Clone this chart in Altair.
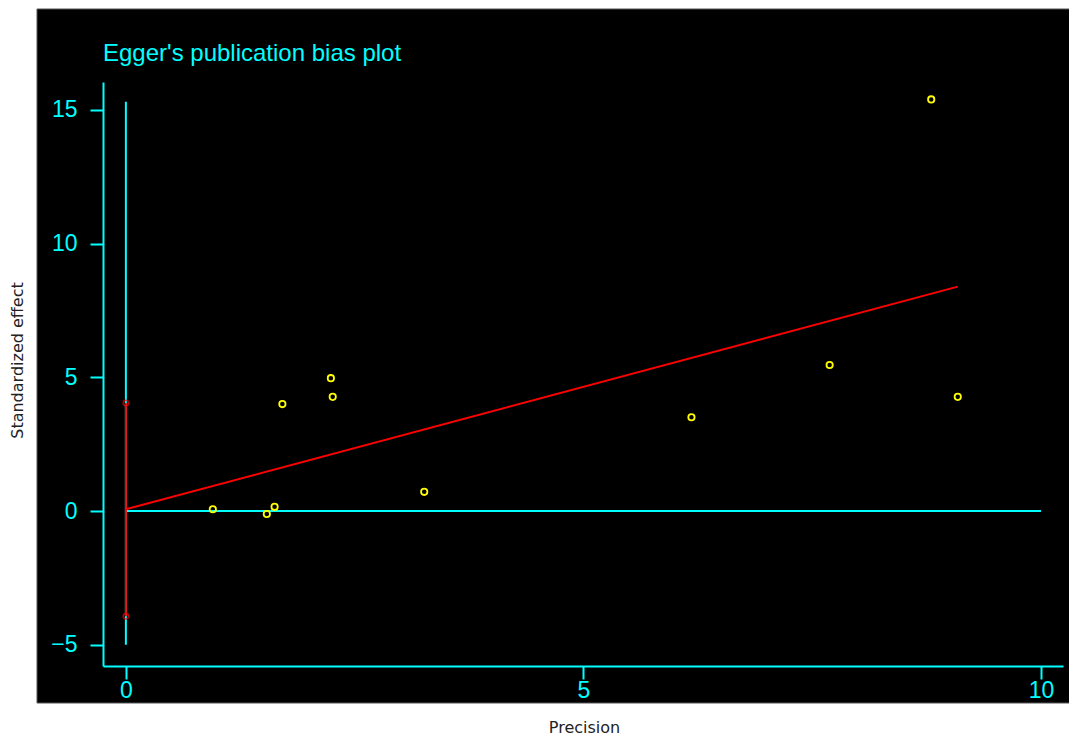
import altair as alt
import pandas as pd

# ---- data ----
precision = [0.95, 1.54, 1.625, 1.71, 2.24, 2.26, 3.26, 6.18, 7.69, 8.80, 9.09]
std_effect = [0.07, -0.11, 0.16, 4.00, 4.97, 4.27, 0.72, 3.51, 5.46, 15.39, 4.27]

reg_x = [0.0, 9.09]          # regression line end points (precision)
reg_y = [0.07, 8.39]         # regression line end points (standardized effect)
ci_low, ci_high = -3.93, 4.04  # intercept confidence interval
ref_vline = [-5.0, 15.3]     # cyan reference line at precision 0
zero_line = [0.0, 10.0]      # cyan line at effect 0

x_ticks = [0, 5, 10]
y_ticks = [-5, 0, 5, 10, 15]
x_domain = [-0.25, 10.24]
y_domain = [-5.79, 16.04]

CYAN = "#00ffff"
RED = "#ff0000"
YELLOW = "#ffff00"
NARROW = "Liberation Sans Narrow, Arial Narrow, Liberation Sans, Arial"

pts = pd.DataFrame({"precision": precision, "effect": std_effect})
reg = pd.DataFrame({"precision": reg_x, "effect": reg_y})
ci = pd.DataFrame({"precision": [0, 0], "effect": [ci_low, ci_high]})
one = pd.DataFrame({"a": [0]})

xs = alt.Scale(domain=x_domain, nice=False, zero=False)
ys = alt.Scale(domain=y_domain, nice=False, zero=False)

background = alt.Chart(one).mark_rect(
    fill="black", stroke="#555555", strokeWidth=1, clip=False
).encode(
    x=alt.value(-66), x2=alt.value(975), y=alt.value(-73), y2=alt.value(621)
)

vline = alt.Chart(one).mark_rule(color=CYAN, strokeWidth=2).encode(
    x=alt.datum(0, scale=xs),
    y=alt.datum(ref_vline[0], scale=ys),
    y2=alt.datum(ref_vline[1]),
)

hline = alt.Chart(one).mark_rule(color=CYAN, strokeWidth=2).encode(
    x=alt.datum(zero_line[0], scale=xs),
    x2=alt.datum(zero_line[1]),
    y=alt.datum(0, scale=ys),
)

ci_rule = alt.Chart(ci).mark_line(color=RED, strokeWidth=2).encode(
    x=alt.X("precision:Q", scale=xs),
    y=alt.Y("effect:Q", scale=ys),
)

ci_ends = alt.Chart(ci).mark_point(
    shape="circle", filled=False, color=RED, size=30, strokeWidth=1.5
).encode(
    x=alt.X("precision:Q", scale=xs),
    y=alt.Y("effect:Q", scale=ys),
)

reg_line = alt.Chart(reg).mark_line(color=RED, strokeWidth=2).encode(
    x=alt.X("precision:Q", scale=xs),
    y=alt.Y("effect:Q", scale=ys),
)

points = alt.Chart(pts).mark_point(
    shape="circle", filled=False, color=YELLOW, size=40, strokeWidth=1.8, opacity=1
).encode(
    x=alt.X(
        "precision:Q", scale=xs, title="Precision",
        axis=alt.Axis(values=x_ticks, format="d", labelPadding=0, zindex=1,
                      titleX=481, titleY=66, titleAlign="center",
                      titleBaseline="alphabetic"),
    ),
    y=alt.Y(
        "effect:Q", scale=ys, title="Standardized effect",
        axis=alt.Axis(values=y_ticks, format="d", labelPadding=13, zindex=1,
                      titleX=-86, titleY=278, titleAlign="center",
                      titleBaseline="middle", titleAngle=270),
    ),
)

chart = alt.layer(
    background, vline, hline, ci_rule, ci_ends, reg_line, points
).properties(
    width=960,
    height=584,
    padding={"left": 95, "top": 74, "right": 6, "bottom": 70},
    autosize=alt.AutoSizeParams(type="none"),
    background="white",
    title=alt.TitleParams(
        "Egger's publication bias plot", anchor="start", frame="group",
        color=CYAN, font=NARROW, fontSize=24, fontWeight="normal",
        baseline="alphabetic", offset=23, dy=99, zindex=1,
    ),
).configure_view(stroke=None).configure_axis(
    domainColor=CYAN, domainWidth=2, tickColor=CYAN, tickWidth=2, tickSize=13,
    labelColor=CYAN, labelFont=NARROW, labelFontSize=23, grid=False,
    titleColor="#222222", titleFont="DejaVu Sans", titleFontSize=16,
    titleFontWeight="normal",
)

chart.save("out.html", embed_options={"renderer": "svg", "actions": False})
